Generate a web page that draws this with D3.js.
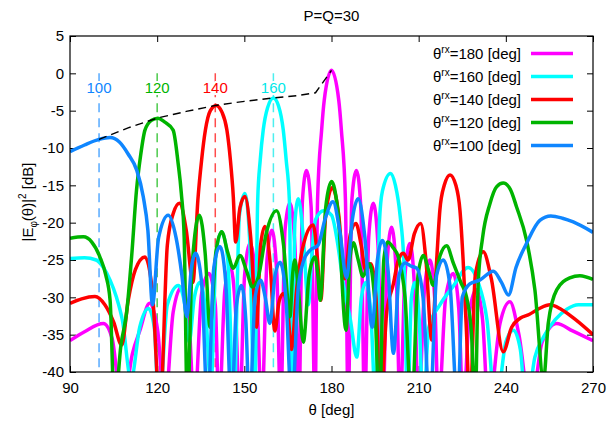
<!DOCTYPE html>
<html>
<head>
<meta charset="utf-8">
<script src="https://cdn.jsdelivr.net/npm/d3@7"></script>
<style>
body { margin: 0; background: #fff; }
svg text { font-family: "Liberation Sans", Arial, sans-serif; }
</style>
</head>
<body>
<svg id="chart" width="607" height="422"></svg>
<script>
// axis ticks
var xTicks = [90, 120, 150, 180, 210, 240, 270];
var yTicks = [5, 0, -5, -10, -15, -20, -25, -30, -35, -40];

// legend (plot order: first one is drawn first)
var rxAngles = ["180", "160", "140", "120", "100"];
var rxColors = ["#ff00ff", "#00ffff", "#ff0000", "#00b400", "#0f86ff"];

// steering markers
var markerAngles = [100, 120, 140, 160];
var markerColors = ["#0f86ff", "#00b400", "#ff0000", "#00e8e8"];

// [theta deg, dB]
var rx180 = [[90,-35.8],[95,-34.6],[101.5,-33.5],[104.5,-35.5],[108,-45],[111.5,-37.5],[114,-34.5],[117.4,-30.8],[120.2,-34.5],[122.6,-45],[125.5,-32],[128.4,-28.6],[130.9,-33],[132.8,-45],[135.3,-29.5],[137.8,-26.8],[140,-31],[141.3,-45],[143.3,-29],[145.2,-25.9],[147,-32],[148.4,-45],[150.1,-27],[152,-22.8],[154.2,-29],[156,-45],[157.8,-25],[159.5,-21],[161.2,-27],[162.5,-45],[164,-21],[165.7,-17.4],[167.4,-23],[168.8,-45],[170,-17],[171.4,-13],[173,-18],[174.3,-45],[175.2,-17],[176.6,-7.6],[177.5,-3.6],[180,0.4],[182.5,-3.6],[183.4,-7.6],[184.8,-17],[185.7,-45],[187,-17],[188.6,-13],[190.1,-18],[191.4,-45],[192.8,-22],[194.4,-17.4],[196,-23],[197.6,-45],[199.2,-25],[200.7,-20.6],[202.3,-27],[203.6,-45],[205.3,-27],[207,-22.8],[208.6,-29],[209.9,-45],[212,-29],[213.9,-25],[215.5,-30],[216.8,-45],[219.3,-30],[221.9,-26.8],[223.8,-31.5],[225.3,-45],[227.5,-32],[229.8,-29],[232,-33],[234,-45],[238,-33.5],[241.4,-30.6],[244.5,-35],[248.5,-45],[252.5,-36],[257.5,-33.5],[263,-34.5],[270,-35.8]];

var rx160 = [[90,-24.8],[95,-24.7],[99,-25],[101.5,-26],[103.8,-27.7],[106,-30],[108,-33],[111,-41],[114,-34],[117,-31.5],[119,-34],[120.6,-45],[123.5,-31],[127.3,-28.4],[129.5,-31],[131,-36],[132.8,-30],[134.7,-28],[136.7,-32],[138.5,-42],[140.3,-24],[142.2,-21.2],[144.3,-25],[146.4,-45],[148.3,-19],[150.2,-16.1],[151.8,-22],[153.5,-45],[154.6,-17],[155.5,-11.5],[156.5,-7.6],[158,-4.6],[160,-3.3],[161.8,-4.4],[163.4,-7.6],[164.4,-11.6],[165.5,-17],[166.4,-45],[167.4,-20],[168.6,-16.8],[170.3,-22],[172,-31],[173.3,-24],[174.5,-19.6],[177.3,-18.4],[180,-19],[182,-22.5],[184,-28],[186.5,-33],[188.7,-38],[190.3,-30],[191.8,-28],[193.5,-32],[195.3,-45],[196.5,-20],[197.5,-15.8],[200.3,-13.4],[202,-15],[203.6,-19],[205,-26],[206.2,-45],[207.5,-30],[208.7,-28],[210.2,-33],[211.5,-45],[213.5,-34],[217.3,-31],[221.9,-28.5],[227,-26],[230.5,-28],[233.5,-33],[236.5,-45],[240,-36],[242.6,-34.4],[245,-37],[247,-45],[250,-38],[253,-35.3],[257,-33],[261,-31.6],[265,-31],[270,-31]];

var rx140 = [[90,-30.8],[94,-30.2],[98.6,-29.9],[102,-31],[105,-33.3],[107.8,-36.4],[110,-30.5],[112.5,-26.3],[115.8,-24.6],[118.3,-29],[121,-45],[123.5,-23],[125.5,-18.8],[127.7,-17.4],[130,-21],[132.3,-28],[134,-17],[135.3,-11.6],[136.6,-7.6],[138.3,-5],[140.3,-4.3],[142.3,-5.2],[144,-7.6],[145.2,-11.6],[146.2,-16.5],[147,-22.6],[148.5,-18],[150.2,-16.5],[152.2,-22],[154.2,-34],[155.6,-23],[157.1,-20.5],[158.8,-25],[160.5,-34.5],[162,-30.5],[163.5,-29.5],[165,-32],[166.2,-37],[168,-29],[170,-23.5],[173.7,-20.3],[175.2,-25],[176.3,-30.4],[178,-19],[180.3,-15.3],[182.5,-19],[184.5,-27.5],[186.5,-21.5],[188.4,-20.1],[190.2,-23],[191.8,-26.4],[193.5,-25.5],[195.3,-30],[196.8,-45],[199,-32],[201.3,-28.2],[203,-25],[204.7,-24.1],[206.4,-25],[208.5,-21.5],[210.7,-20.1],[212.5,-25],[214.5,-35.7],[216.2,-25],[217.3,-18.3],[218.8,-15],[220.8,-13.6],[222.8,-15],[224.2,-18.3],[225.3,-25],[226.5,-35],[227.6,-45],[229.5,-27],[232.2,-23.9],[235,-27.5],[239.1,-37.3],[242,-34],[244.9,-32.8],[248,-32.3],[251.5,-31.5],[255.2,-31],[259,-31.6],[264,-33],[270,-35]];

var rx120 = [[90,-22.1],[94.6,-21.9],[97.5,-22.6],[100.3,-24.6],[102.3,-27],[103.8,-30.4],[105.3,-45],[107.5,-36.5],[109.5,-32],[111.2,-24.6],[112.9,-15.6],[114.3,-11],[115.8,-7.6],[118,-6.3],[120.2,-6],[122.5,-6.5],[125.5,-7.6],[127.2,-12],[128.3,-16],[129.3,-22],[130.4,-45],[132,-26],[134.5,-19],[136.5,-24],[138.2,-34],[140.2,-24],[142.2,-21.2],[144.3,-24],[146.2,-26.1],[148.5,-24.4],[150.8,-26.5],[152.8,-28.6],[154.8,-27.3],[157.5,-21.5],[161.1,-18.4],[163.5,-23],[165.7,-32.6],[166.6,-27],[167.4,-25],[168.6,-29],[170.3,-36],[172.3,-27],[174.3,-24.6],[175.3,-27],[176.1,-30.4],[178,-18],[180,-14.5],[182.2,-18.5],[185,-34.4],[186.3,-25],[187.5,-22.7],[189.2,-25],[190.8,-27.2],[193,-25.5],[194.8,-30],[196.5,-45],[198,-25],[199.3,-22.6],[201.3,-23.4],[203,-24.6],[205.3,-30],[207.6,-45],[209.8,-27],[211.6,-24.4],[213.5,-26.5],[215,-28.4],[217.3,-24.5],[219.6,-23.1],[222,-25.5],[224.5,-28],[226.5,-30],[228.2,-35],[229.4,-45],[230.5,-28],[232,-22],[234.5,-17.5],[236.8,-15.2],[239.1,-14.7],[241.5,-15.5],[243.7,-17.9],[247.1,-22.3],[250,-29],[253,-41],[254.6,-33.5],[257.5,-29],[262,-27.4],[265.5,-27.1],[270,-27.6]];

var rx100 = [[90,-10.5],[95,-9.6],[100,-8.85],[103.8,-8.6],[107,-9.2],[110,-10.8],[113,-13],[115.2,-16.5],[116.8,-21],[118.4,-31],[120.5,-22],[123.8,-19],[126.5,-22],[128.5,-27],[130.2,-32.6],[131.8,-26],[133.2,-24.1],[135.3,-28],[137.4,-45],[139.5,-26],[141.6,-23.2],[143.6,-28],[145.6,-45],[147.3,-31],[149,-28.4],[150.5,-33],[151.8,-45],[153.7,-30],[155.6,-27.7],[157.2,-30],[158.8,-33.5],[160.6,-27],[162.3,-25.3],[164.3,-30],[166.4,-45],[168.5,-29],[170.5,-25],[172.6,-23.7],[175.4,-23],[177.8,-19.5],[180.5,-17.2],[182.8,-21],[185.2,-27.4],[187.2,-19.5],[189.2,-16.8],[191.5,-22],[194,-34],[195.8,-25],[197.5,-22.4],[199.5,-26.5],[201.3,-37.5],[203.3,-27],[205.3,-25.4],[207.3,-25.8],[209.3,-26.1],[211.5,-30],[213.9,-45],[216.2,-27],[218.5,-25],[220.8,-28.5],[223.4,-45],[225,-30],[227.6,-28.2],[231,-27.7],[235.7,-26.5],[238.5,-28],[240.9,-29.7],[243.5,-26],[247.1,-22.8],[251.7,-19.7],[255.5,-19.1],[259.5,-19.4],[263.2,-19.9],[270,-21.3]];

// envelope of main-lobe peaks (black dashed)
var envelope = [[100,-8.85],[110,-7.3],[120,-6.0],[130,-5.1],[140,-4.3],[150,-3.75],[160,-3.3],[168,-3.0],[174.5,-2.6],[180,0.4]];

var seriesData = [rx180, rx160, rx140, rx120, rx100];

var margin = {top: 36, right: 14, bottom: 50, left: 70},
    width = 607 - margin.left - margin.right,
    height = 336;

var svg = d3.select("#chart");
var g = svg.append("g")
    .attr("transform", "translate(" + margin.left + "," + margin.top + ")");

var x = d3.scaleLinear().domain([90, 270]).range([0, width]);
var y = d3.scaleLinear().domain([-40, 5]).range([height, 0]);

g.append("clipPath").attr("id", "plot-clip")
  .append("rect").attr("width", width).attr("height", height);

// axes, ticks pointing inward
var fmt = function(d) { return String(d); };
var xAxis = g.append("g").attr("transform", "translate(0," + height + ")")
    .call(d3.axisBottom(x).tickValues(xTicks).tickSize(-6).tickPadding(10).tickFormat(fmt));
var xTop = g.append("g")
    .call(d3.axisTop(x).tickValues(xTicks).tickSize(-6).tickFormat(""));
var yAxis = g.append("g")
    .call(d3.axisLeft(y).tickValues(yTicks).tickSize(-6).tickPadding(6).tickFormat(fmt));
var yRight = g.append("g").attr("transform", "translate(" + width + ",0)")
    .call(d3.axisRight(y).tickValues(yTicks).tickSize(-6).tickFormat(""));

[xAxis, xTop, yAxis, yRight].forEach(function(a) {
  a.select(".domain").remove();
  a.selectAll("line").attr("stroke", "#000");
  a.selectAll("text").attr("font-size", 15).attr("fill", "#000");
});

// steering markers (dashed verticals)
g.selectAll(".marker")
    .data(markerAngles)
    .enter()
    .append("line")
    .attr("class", "marker")
    .attr("x1", function(d) { return x(d); })
    .attr("x2", function(d) { return x(d); })
    .attr("y1", y(0))
    .attr("y2", height)
    .attr("stroke", function(d, i) { return markerColors[i]; })
    .attr("stroke-opacity", 0.7)
    .attr("stroke-width", 1.5)
    .attr("stroke-dasharray", "9,6");

var line = d3.line()
    .x(function(d) { return x(d[0]); })
    .y(function(d) { return y(d[1]); })
    .curve(d3.curveMonotoneX);

g.append("g").attr("clip-path", "url(#plot-clip)")
  .selectAll(".pattern")
    .data(seriesData)
    .enter()
    .append("path")
    .attr("class", "pattern")
    .attr("d", line)
    .attr("fill", "none")
    .attr("stroke", function(d, i) { return rxColors[i]; })
    .attr("stroke-width", 3.5)
    .attr("stroke-linejoin", "round");

g.append("path")
    .datum(envelope)
    .attr("d", d3.line()
        .x(function(d) { return x(d[0]); })
        .y(function(d) { return y(d[1]); }))
    .attr("fill", "none")
    .attr("stroke", "#000")
    .attr("stroke-width", 1.4)
    .attr("stroke-dasharray", "8,5");

// marker labels with white halo so the dashes don't cross them
g.selectAll(".marker-label")
    .data(markerAngles)
    .enter()
    .append("text")
    .attr("class", "marker-label")
    .attr("x", function(d) { return x(d); })
    .attr("y", y(-2.7))
    .attr("text-anchor", "middle")
    .attr("font-size", 15)
    .attr("fill", function(d, i) { return markerColors[i]; })
    .attr("stroke", "#fff")
    .attr("stroke-width", 4)
    .attr("paint-order", "stroke")
    .text(function(d) { return d; });

// frame
g.append("rect")
    .attr("width", width)
    .attr("height", height)
    .attr("fill", "none")
    .attr("stroke", "#000")
    .attr("stroke-width", 1.2);

// legend
var legend = g.selectAll(".legend")
    .data(rxAngles)
    .enter()
    .append("g")
    .attr("class", "legend")
    .attr("transform", function(d, i) { return "translate(0," + (17.5 + i * 23) + ")"; });

legend.append("line")
    .attr("x1", 461).attr("x2", 503)
    .attr("stroke", function(d, i) { return rxColors[i]; })
    .attr("stroke-width", 3.5);

var lt = legend.append("text")
    .attr("x", 451)
    .attr("y", 5)
    .attr("text-anchor", "end")
    .attr("font-size", 15);
lt.append("tspan").text("\u03b8");
lt.append("tspan").attr("dy", -6).attr("font-size", 10).text("rx");
lt.append("tspan").attr("dy", 6).text(function(d) { return "=" + d + " [deg]"; });

// titles
svg.append("text")
    .attr("x", margin.left + width / 2)
    .attr("y", 21)
    .attr("text-anchor", "middle")
    .attr("font-size", 15)
    .text("P=Q=30");

svg.append("text")
    .attr("x", margin.left + width / 2)
    .attr("y", 415)
    .attr("text-anchor", "middle")
    .attr("font-size", 15)
    .text("\u03b8 [deg]");

var yl = svg.append("text")
    .attr("transform", "translate(33,202) rotate(-90)")
    .attr("text-anchor", "middle")
    .attr("font-size", 15);
yl.append("tspan").text("|E");
yl.append("tspan").attr("dy", 4).attr("font-size", 10).text("\u03c6");
yl.append("tspan").attr("dy", -4).text("(\u03b8)|");
yl.append("tspan").attr("dy", -7).attr("font-size", 10).text("2");
yl.append("tspan").attr("dy", 7).text(" [dB]");
</script>
</body>
</html>
